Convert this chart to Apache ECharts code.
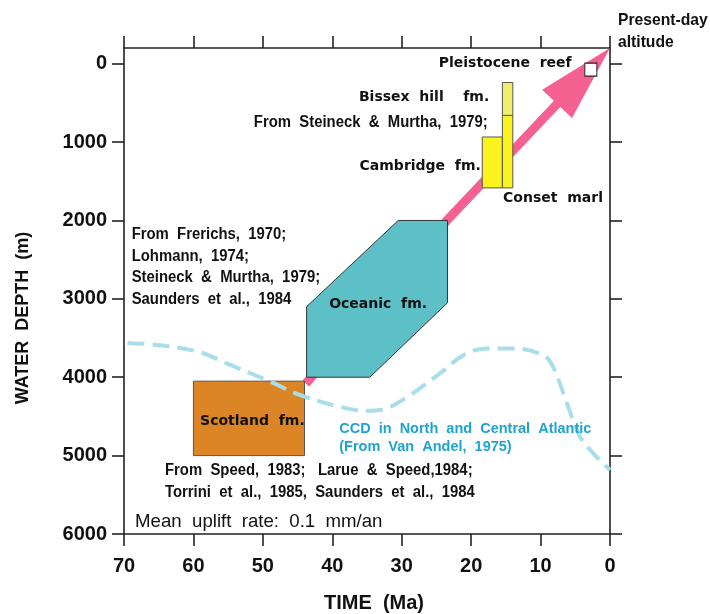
<!DOCTYPE html>
<html><head><meta charset="utf-8">
<script src="https://cdn.jsdelivr.net/npm/echarts@6/dist/echarts.min.js"></script>
<style>html,body{margin:0;padding:0;background:#fff}#c{width:710px;height:614px}</style>
</head><body><div id="c"></div>
<script>
// ---- data ----
const timeTicks = [70, 60, 50, 40, 30, 20, 10, 0];
const depthTicks = [0, 1000, 2000, 3000, 4000, 5000, 6000];

// rectangular formations: age span (Ma) and depth span (m)
const formNames = ['Scotland fm.', 'Cambridge fm.', 'Conset marl', 'Bissex hill fm.'];
const formAgeOld = [60, 18.4, 15.5, 15.5];
const formAgeYoung = [44, 15.5, 14.0, 14.0];
const formDepthTop = [4050, 935, 660, 240];
const formDepthBottom = [5000, 1585, 1585, 660];

// Oceanic fm. polygon
const oceanicAge = [43.7, 30.5, 23.4, 23.4, 34.6, 43.7];
const oceanicDepth = [3100, 2000, 2000, 3050, 4000, 4000];

// uplift path (arrow)
const upliftAge = [43.8, 23.5, 0];
const upliftDepth = [4080, 2000, -200];

// CCD in North and Central Atlantic (Van Andel, 1975)
const ccdAge = [69.5, 64.8, 59.1, 55.2, 49.4, 44.6, 38.9, 35.0, 32.2, 28.8, 24.5, 21.1, 17.8, 13.9, 9.6, 8.2, 6.2, 4.3, 2.4, 0];
const ccdDepth = [3562, 3591, 3680, 3824, 4037, 4228, 4377, 4428, 4398, 4228, 3952, 3718, 3633, 3633, 3718, 3867, 4334, 4760, 4971, 5184];

// Pleistocene reef
const reefAge = [2.76];
const reefDepth = [76];

// annotations (anchor in data space)
const noteText = [
  'Present-day', 'altitude', 'Pleistocene  reef', 'Bissex  hill    fm.', 'From  Steineck  &  Murtha,  1979;',
  'Cambridge  fm.', 'Conset  marl', 'From  Frerichs,  1970;', 'Lohmann,  1974;', 'Steineck  &  Murtha,  1979;',
  'Saunders  et  al.,  1984', 'Oceanic  fm.', 'Scotland  fm.', 'CCD  in  North  and  Central  Atlantic',
  '(From  Van  Andel,  1975)', 'From  Speed,  1983;   Larue  &  Speed,1984;', 'Torrini  et  al.,  1985,  Saunders  et  al.,  1984',
  'Mean  uplift  rate:  0.1  mm/an'
];
const noteAge = [-1.15, -1.15, 5.52, 17.4, 17.6, 18.6, 15.4, 68.9, 68.9, 68.9, 68.9, 33.4, 51.5, 39.0, 39.0, 64.1, 64.1, 68.4];
const noteDepth = [-552, -263, -8, 426, 757, 1305, 1721, 2176, 2460, 2728, 3005, 3072, 4560, 4662, 4887, 5197, 5473, 5843];
const noteKind = ['big', 'big', 'lab', 'lab', 'ref', 'lab', 'lab', 'ref', 'ref', 'ref', 'ref', 'lab', 'lab', 'ccd', 'ccd', 'ref', 'ref', 'rate'];
const noteAlign = ['left', 'left', 'right', 'right', 'right', 'right', 'left', 'left', 'left', 'left', 'left', 'center', 'center', 'left', 'left', 'left', 'left', 'left'];

// ---- styles ----
const formColors = ['#DB8526', '#FAF31E', '#FAF31E', '#F1EE6C'];
const fonts = {
  big: 'bold 15.7px "Liberation Sans", Arial, sans-serif',
  lab: 'bold 14px "DejaVu Sans", sans-serif',
  ref: 'bold 16px "Liberation Sans", Arial, sans-serif',
  ccd: 'bold 14.5px "Liberation Sans", Arial, sans-serif',
  rate: '19px "Liberation Sans", Arial, sans-serif'
};
const fontScaleX = {big: 1, lab: 1, ref: 0.93, ccd: 1, rate: 0.98};
const fontColors = {big: '#111', lab: '#111', ref: '#111', ccd: '#1FA4CD', rate: '#111'};
const pink = '#F4608F';
const axisColor = '#222';

const chart = echarts.init(document.getElementById('c'));

const axisCommon = {
  type: 'value', inverse: true,
  axisLine: {show: true, onZero: false, lineStyle: {color: axisColor, width: 1.6}},
  axisTick: {show: true, inside: false, length: 12, lineStyle: {color: axisColor, width: 1.6}},
  splitLine: {show: false}
};
const labelFont = {fontSize: 20, fontWeight: 'bold', color: '#111', fontFamily: '"Liberation Sans", Arial, sans-serif',
  formatter: function (v) { return String(v); }};

chart.setOption({
  animation: false,
  backgroundColor: '#fff',
  grid: {left: 124, right: 100, top: 48, bottom: 80},
  xAxis: [
    Object.assign({}, axisCommon, {min: 0, max: 70, interval: 10, position: 'bottom',
      axisLabel: Object.assign({margin: 22}, labelFont)}),
    Object.assign({}, axisCommon, {min: 0, max: 70, interval: 10, position: 'top', axisLabel: {show: false}})
  ],
  yAxis: [
    Object.assign({}, axisCommon, {min: -200, max: 6000, position: 'left',
      axisTick: Object.assign({}, axisCommon.axisTick, {customValues: depthTicks}),
      axisLabel: Object.assign({margin: 17, customValues: depthTicks}, labelFont)}),
    Object.assign({}, axisCommon, {min: -200, max: 6000, position: 'right',
      axisTick: Object.assign({}, axisCommon.axisTick, {customValues: depthTicks}),
      axisLabel: {show: false, customValues: depthTicks}})
  ],
  graphic: [
    {type: 'text', x: 23, y: 318, rotation: Math.PI / 2,
     style: {text: 'WATER  DEPTH  (m)', align: 'center', verticalAlign: 'middle', font: 'bold 18px "Liberation Sans", Arial, sans-serif', fill: '#111'}},
    {type: 'text', x: 374, y: 603,
     style: {text: 'TIME  (Ma)', align: 'center', verticalAlign: 'middle', font: 'bold 20px "Liberation Sans", Arial, sans-serif', fill: '#111'}}
  ],
  series: [
    { // uplift arrow
      type: 'custom', z: 1, clip: false,
      data: [[0]],
      renderItem: function (params, api) {
        const pts = upliftAge.map((a, i) => api.coord([a, upliftDepth[i]]));
        const tip = pts[pts.length - 1], prev = pts[pts.length - 2];
        let dx = tip[0] - prev[0], dy = tip[1] - prev[1];
        const len = Math.hypot(dx, dy); dx /= len; dy /= len;
        const L = 77, W = 41;
        const base = [tip[0] - dx * L, tip[1] - dy * L];
        const shaft = pts.slice(0, -1).concat([[tip[0] - dx * (L - 4), tip[1] - dy * (L - 4)]]);
        return {type: 'group', children: [
          {type: 'polyline', shape: {points: shaft}, style: {stroke: pink, lineWidth: 9, fill: null}},
          {type: 'polygon', shape: {points: [tip, [base[0] - dy * W / 2, base[1] + dx * W / 2], [base[0] + dy * W / 2, base[1] - dx * W / 2]]},
           style: {fill: pink}}
        ]};
      }
    },
    { // Oceanic fm.
      type: 'custom', z: 2,
      data: [[0]],
      renderItem: function (params, api) {
        const pts = oceanicAge.map((a, i) => api.coord([a, oceanicDepth[i]]));
        return {type: 'polygon', shape: {points: pts}, style: {fill: '#5DC0C7', stroke: '#333', lineWidth: 1}};
      }
    },
    { // rectangular formations
      type: 'custom', z: 2,
      data: formNames.map((n, i) => [formAgeOld[i], formAgeYoung[i], formDepthTop[i], formDepthBottom[i]]),
      encode: {x: [0, 1], y: [2, 3]},
      renderItem: function (params, api) {
        const p0 = api.coord([api.value(0), api.value(2)]);
        const p1 = api.coord([api.value(1), api.value(3)]);
        return {type: 'rect',
          shape: {x: Math.min(p0[0], p1[0]), y: Math.min(p0[1], p1[1]), width: Math.abs(p1[0] - p0[0]), height: Math.abs(p1[1] - p0[1])},
          style: {fill: formColors[params.dataIndex], stroke: '#555', lineWidth: 1}};
      }
    },
    { // CCD
      type: 'line', z: 3, smooth: 0.35, symbol: 'none',
      data: ccdAge.map((a, i) => [a, ccdDepth[i]]),
      lineStyle: {color: '#A8DDEA', width: 4, type: [17, 8], cap: 'butt'}
    },
    { // Pleistocene reef
      type: 'scatter', z: 4, symbol: 'rect', symbolSize: [12, 13],
      data: reefAge.map((a, i) => [a, reefDepth[i]]),
      itemStyle: {color: '#fff', opacity: 1, borderColor: '#222', borderWidth: 1}
    },
    { // annotations
      type: 'custom', z: 5, clip: false,
      data: noteText.map((t, i) => [noteAge[i], noteDepth[i]]),
      renderItem: function (params, api) {
        const i = params.dataIndex;
        const p = api.coord([noteAge[i], noteDepth[i]]);
        const k = noteKind[i];
        return {type: 'text', x: p[0], y: p[1], scaleX: fontScaleX[k],
          style: {text: noteText[i], font: fonts[k], fill: fontColors[k], align: noteAlign[i], verticalAlign: 'middle'}};
      }
    }
  ]
});
</script></body></html>
